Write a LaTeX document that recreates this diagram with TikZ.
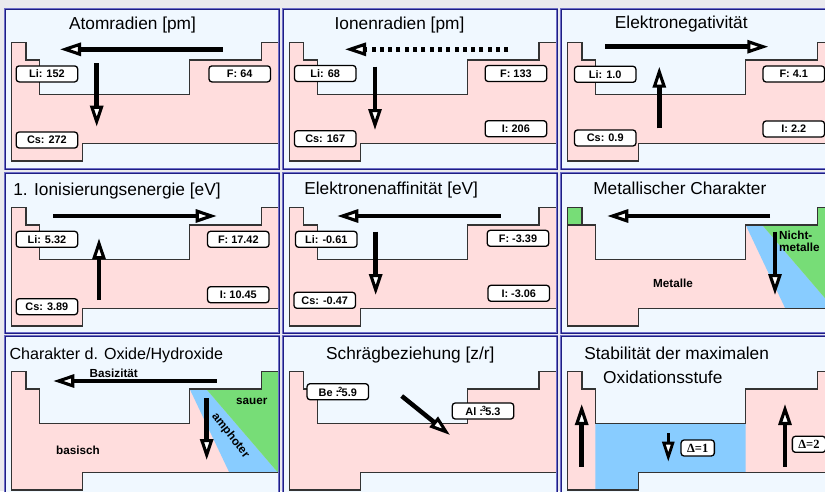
\documentclass[tikz,border=0pt]{standalone}
\usepackage{fontspec}
\setmainfont{Liberation Sans}
\newfontfamily\serifdelta{Liberation Serif}
\usetikzlibrary{arrows.meta}
\definecolor{panelbg}{RGB}{240,248,255}
\definecolor{pagebg}{RGB}{234,234,238}
\definecolor{pinkfill}{RGB}{255,221,221}
\definecolor{greenfill}{RGB}{119,221,119}
\definecolor{bluefill}{RGB}{136,204,255}
\definecolor{tline}{RGB}{51,51,51}
\definecolor{bordercol}{RGB}{110,110,200}
\definecolor{bordernavy}{RGB}{30,30,130}
\newcommand\ptable{(0,0) -- (14.3,0) -- (14.3,17.3) -- (27.6,17.3) -- (27.6,51.6) -- (178,51.6) -- (178,17.3) -- (249.5,17.3) -- (249.5,0) -- (268,0) -- (268,100.6) -- (71,100.6) -- (71,118.3) -- (0,118.3) -- cycle}
\newcommand\supnum[1]{:\kern-1.2pt\raisebox{3.8pt}{\fontsize{7.5}{7.5}\selectfont #1}\kern-0.6pt}
\begin{document}
\begin{tikzpicture}[x=1pt,y=-1pt,
  tbl/.style={draw=tline, line width=1.1pt, line join=miter},
  lbl/.style={draw=black, fill=white, rounded corners=3pt, line width=1.3pt, minimum width=61.5pt, minimum height=16pt, inner sep=0pt, font=\fontsize{10.9}{11}\selectfont\bfseries},
  dlbl/.style={lbl, minimum width=33.3pt, font=\serifdelta\fontsize{12.5}{13}\selectfont\bfseries},
  ttl/.style={anchor=base, inner sep=0pt, font=\fontsize{17.3}{18}\selectfont},
  reg/.style={inner sep=0pt, font=\fontsize{11.7}{12}\selectfont\bfseries},
  bigarrow/.style={line width=4.5pt, -{Triangle[length=21pt, width=13pt, fill=white, line width=3.1pt]}},
  smallarrow/.style={line width=3.5pt, -{Triangle[length=20pt, width=12pt, fill=white, line width=2.8pt]}},
  dotarrow/.style={bigarrow, dash pattern=on 4pt off 4.3pt}
]
\useasboundingbox (0,0) rectangle (825,491);
\fill[pagebg] (0,0) rectangle (825,491);
\foreach \px in {5,283,561}{
  \foreach \py in {9,173,336}{
    \fill[panelbg] (\px,\py) rectangle ++(274,160);
  }
}

% ---------- tables ----------
\foreach \px/\py/\tx/\ty in {5/9/11.7/42.7, 283/9/289.5/42.7, 561/9/567.7/42.7, 5/173/11.7/207.7, 283/173/289.5/207.7, 283/336/289.5/371.7}{
  \begin{scope}
    \clip (\px,\py) rectangle ++(274,160);
    \begin{scope}[shift={(\tx,\ty)}]
      \filldraw[tbl, fill=pinkfill] \ptable;
    \end{scope}
  \end{scope}
}
% P6 : metallic character
\begin{scope}
  \clip (561,173) rectangle ++(274,160);
  \begin{scope}[shift={(567.7,207.7)}]
    \fill[pinkfill] \ptable;
    \fill[greenfill] (0,0) rectangle (14.3,17.3);
    \fill[bluefill] (178,17.3) -- (194.5,17.3) -- (266,100.6) -- (217.5,100.6) -- cycle;
    \fill[greenfill] (194.5,17.3) -- (249.5,17.3) -- (249.5,0) -- (268,0) -- (268,100.6) -- (266,100.6) -- cycle;
    \draw[tbl] (0,17.3) -- (14.3,17.3);
    \draw[tbl] \ptable;
  \end{scope}
\end{scope}
% P7 : oxides / hydroxides
\begin{scope}
  \clip (5,336) rectangle ++(274,160);
  \begin{scope}[shift={(11.7,371.7)}]
    \fill[pinkfill] \ptable;
    \fill[bluefill] (178,17.3) -- (194.5,17.3) -- (266,100.6) -- (217.5,100.6) -- cycle;
    \fill[greenfill] (194.5,17.3) -- (249.5,17.3) -- (249.5,0) -- (268,0) -- (268,100.6) -- (266,100.6) -- cycle;
    \draw[tbl] \ptable;
  \end{scope}
\end{scope}
% P9 : oxidation state
\begin{scope}
  \clip (561,336) rectangle ++(274,160);
  \begin{scope}[shift={(567.7,371.7)}]
    \fill[pinkfill] \ptable;
    \fill[bluefill] (27.6,51.6) -- (178,51.6) -- (178,100.6) -- (71,100.6) -- (71,118.3) -- (27.6,118.3) -- cycle;
    \draw[tbl] \ptable;
  \end{scope}
\end{scope}

% ---------- panel borders ----------
\foreach \px in {5,283,561}{
  \foreach \py in {9,173,336}{
    \draw[bordercol, line width=2.4pt] (\px,\py) rectangle ++(274,160);
    \draw[bordernavy, line width=0.7pt] (\px,\py) rectangle ++(274,160);
  }
}

% ---------- titles ----------
\node[ttl] (t1) at (132.5,29.5) {Atomradien [pm]};
\node[ttl] (t2) at (399.5,29.5) {Ionenradien [pm]};
\node[ttl] (t3) at (681.3,28.3) {Elektronegativität};
\node[ttl] (t4) at (117,195.2) {1. Ionisierungsenergie [eV]};
\node[ttl] (t5) at (391.2,194.8) {Elektronenaffinität [eV]};
\node[ttl] (t6) at (679.8,194.3) {Metallischer Charakter};
\node[ttl, font=\fontsize{16.1}{17}\selectfont] (t7) at (116.3,359.3) {Charakter d. Oxide/Hydroxide};
\node[ttl] (t8) at (410.3,359.3) {Schrägbeziehung [z/r]};
\node[ttl] (t9a) at (676.7,359.3) {Stabilität der maximalen};
\node[ttl] (t9b) at (662.8,383.3) {Oxidationsstufe};

% ---------- P1 ----------
\node[lbl] (p1li) at (46.9,73.9) {Li: 152};
\node[lbl] (p1f) at (239.7,73.9) {F: 64};
\node[lbl] (p1cs) at (46.9,140) {Cs: 272};
\coordinate (a1s) at (222.7,49.3); \coordinate (a1e) at (60,49.3);
\coordinate (b1s) at (96.7,63.3); \coordinate (b1e) at (96.7,126.7);
\draw[bigarrow] (a1s) -- (a1e);
\draw[bigarrow] (b1s) -- (b1e);

% ---------- P2 ----------
\node[lbl] (p2li) at (325.2,73.5) {Li: 68};
\node[lbl] (p2f) at (515.9,73.5) {F: 133};
\node[lbl] (p2i) at (515.9,128.7) {I: 206};
\node[lbl] (p2cs) at (325.2,138.7) {Cs: 167};
\coordinate (a2s) at (508.3,49.3); \coordinate (a2e) at (345,49.3);
\coordinate (b2s) at (375,66.7); \coordinate (b2e) at (375,130);
\draw[dotarrow] (a2s) -- (a2e);
\draw[bigarrow] (b2s) -- (b2e);

% ---------- P3 ----------
\node[lbl] (p3li) at (605.2,74.3) {Li: 1.0};
\node[lbl] (p3f) at (793.8,74) {F: 4.1};
\node[lbl] (p3cs) at (605.2,138) {Cs: 0.9};
\node[lbl] (p3i) at (793.8,129) {I: 2.2};
\coordinate (a3s) at (605,46.7); \coordinate (a3e) at (768.3,46.7);
\coordinate (b3s) at (659.3,128.3); \coordinate (b3e) at (659.3,66.7);
\draw[bigarrow] (a3s) -- (a3e);
\draw[bigarrow] (b3s) -- (b3e);

% ---------- P4 ----------
\node[lbl] (p4li) at (46.9,239.3) {Li: 5.32};
\node[lbl] (p4f) at (238.3,239.3) {F: 17.42};
\node[lbl] (p4i) at (238.3,294.7) {I: 10.45};
\node[lbl] (p4cs) at (46.9,306.7) {Cs: 3.89};
\coordinate (a4s) at (53.3,216); \coordinate (a4e) at (216.7,216);
\coordinate (b4s) at (99,300); \coordinate (b4e) at (99,238.3);
\draw[bigarrow] (a4s) -- (a4e);
\draw[bigarrow] (b4s) -- (b4e);

% ---------- P5 ----------
\node[lbl] (p5li) at (326.3,239.3) {Li: -0.61};
\node[lbl] (p5f) at (518,238.3) {F: -3.39};
\node[lbl] (p5i) at (518.8,293.3) {I: -3.06};
\node[lbl] (p5cs) at (324.7,300.3) {Cs: -0.47};
\coordinate (a5s) at (500.7,216); \coordinate (a5e) at (337.3,216);
\coordinate (b5s) at (375.7,231.7); \coordinate (b5e) at (375.7,295);
\draw[bigarrow] (a5s) -- (a5e);
\draw[bigarrow] (b5s) -- (b5e);

% ---------- P6 ----------
\node[reg] (p6met) at (673,283.3) {Metalle};
\node[reg, anchor=west, align=left] (p6nm) at (779,241) {Nicht-\\metalle};
\coordinate (a6s) at (770,216); \coordinate (a6e) at (607.3,216);
\coordinate (b6s) at (775,231.7); \coordinate (b6e) at (775,295);
\draw[bigarrow] (a6s) -- (a6e);
\draw[bigarrow] (b6s) -- (b6e);

% ---------- P7 ----------
\node[reg] (p7bas) at (113.8,373.3) {Basizität};
\node[reg] (p7basisch) at (78,450) {basisch};
\node[reg] (p7sauer) at (251.7,401.7) {sauer};
\node[reg, rotate=-52] (p7amph) at (230.5,435.8) {amphoter};
\coordinate (a7s) at (216.7,381); \coordinate (a7e) at (53.3,381);
\coordinate (b7s) at (206.7,398.3); \coordinate (b7e) at (206.7,460);
\draw[bigarrow] (a7s) -- (a7e);
\draw[bigarrow] (b7s) -- (b7e);

% ---------- P8 ----------
\node[lbl] (p8be) at (337.8,391.7) {Be \supnum{2}5.9};
\node[lbl] (p8al) at (483,411) {Al \supnum{3}5.3};
\coordinate (a8s) at (401.7,396); \coordinate (a8e) at (450,435);
\draw[bigarrow] (a8s) -- (a8e);

% ---------- P9 ----------
\node[dlbl] (p9d1) at (697.7,448) {Δ=1};
\node[dlbl] (p9d2) at (809,444.3) {Δ=2};
\coordinate (a9s) at (581.7,466.7); \coordinate (a9e) at (581.7,404);
\coordinate (b9s) at (785,466.7); \coordinate (b9e) at (785,404);
\coordinate (c9s) at (668.3,433.3); \coordinate (c9e) at (668.3,461.7);
\draw[bigarrow] (a9s) -- (a9e);
\draw[bigarrow] (b9s) -- (b9e);
\draw[smallarrow] (c9s) -- (c9e);
\end{tikzpicture}
\end{document}
